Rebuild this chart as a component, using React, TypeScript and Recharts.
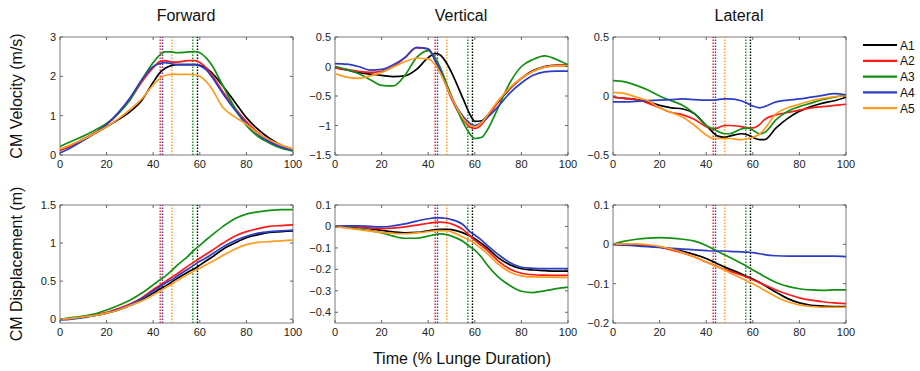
import { LineChart, Line, XAxis, YAxis, ReferenceLine, ReferenceArea } from "recharts";

// sample times (% lunge duration)
const TIME = [0, 5, 10, 15, 20, 25, 30, 35, 40, 43, 45, 48, 50, 55, 58, 60, 63, 65, 70, 75, 80, 85, 90, 95, 100];

// forward CM velocity (m/s)
const fwdVelA1 = [0.12, 0.25, 0.4, 0.55, 0.72, 0.9, 1.1, 1.38, 1.85, 2.1, 2.2, 2.28, 2.3, 2.3, 2.3, 2.28, 2.2, 2.1, 1.75, 1.35, 0.95, 0.65, 0.42, 0.25, 0.15];
const fwdVelA2 = [0.12, 0.25, 0.4, 0.57, 0.77, 1.05, 1.4, 1.85, 2.22, 2.38, 2.4, 2.36, 2.36, 2.4, 2.4, 2.35, 2.2, 2.05, 1.6, 1.2, 0.85, 0.57, 0.37, 0.24, 0.15];
const fwdVelA3 = [0.22, 0.35, 0.48, 0.63, 0.8, 1.05, 1.4, 1.9, 2.35, 2.55, 2.62, 2.62, 2.6, 2.62, 2.63, 2.6, 2.45, 2.3, 1.75, 1.2, 0.75, 0.47, 0.3, 0.17, 0.1];
const fwdVelA4 = [0.05, 0.2, 0.37, 0.55, 0.78, 1.08, 1.45, 1.9, 2.25, 2.33, 2.35, 2.32, 2.3, 2.3, 2.3, 2.27, 2.15, 2.0, 1.55, 1.15, 0.8, 0.52, 0.33, 0.2, 0.12];
const fwdVelA5 = [0.15, 0.27, 0.4, 0.55, 0.72, 0.92, 1.15, 1.42, 1.78, 1.95, 2.02, 2.05, 2.05, 2.05, 2.04, 2.0, 1.85, 1.7, 1.2, 0.97, 0.78, 0.55, 0.38, 0.25, 0.15];

// vertical CM velocity (m/s)
const vertVelA1 = [-0.02, -0.06, -0.1, -0.13, -0.15, -0.17, -0.16, -0.05, 0.15, 0.22, 0.2, 0.05, -0.1, -0.55, -0.82, -0.93, -0.92, -0.85, -0.6, -0.38, -0.2, -0.07, 0.0, 0.02, 0.02];
const vertVelA2 = [-0.02, -0.05, -0.08, -0.1, -0.08, 0.0, 0.15, 0.32, 0.3, 0.1, -0.05, -0.35, -0.55, -0.9, -1.03, -1.05, -0.98, -0.88, -0.6, -0.37, -0.2, -0.08, -0.01, 0.02, 0.02];
const vertVelA3 = [0.0, -0.05, -0.12, -0.22, -0.32, -0.33, -0.15, 0.15, 0.27, 0.15, 0.0, -0.3, -0.5, -0.95, -1.15, -1.22, -1.2, -1.1, -0.7, -0.28, 0.0, 0.12, 0.18, 0.12, 0.03];
const vertVelA4 = [0.05, 0.04, 0.0, -0.06, -0.05, 0.03, 0.15, 0.32, 0.3, 0.1, -0.05, -0.35, -0.52, -0.85, -0.97, -1.0, -0.95, -0.88, -0.68, -0.45, -0.28, -0.15, -0.09, -0.08, -0.08];
const vertVelA5 = [-0.12, -0.18, -0.2, -0.16, -0.1, -0.01, 0.08, 0.14, 0.13, 0.03, -0.1, -0.35, -0.52, -0.88, -1.0, -1.02, -0.95, -0.85, -0.58, -0.36, -0.2, -0.08, -0.01, 0.01, 0.01];

// lateral CM velocity (m/s)
const latVelA1 = [-0.01, -0.02, -0.03, -0.05, -0.08, -0.1, -0.11, -0.15, -0.25, -0.31, -0.34, -0.35, -0.34, -0.32, -0.33, -0.35, -0.37, -0.37, -0.27, -0.19, -0.13, -0.09, -0.06, -0.04, -0.01];
const latVelA2 = [-0.01, -0.02, -0.03, -0.06, -0.1, -0.14, -0.16, -0.2, -0.26, -0.28, -0.27, -0.25, -0.25, -0.26, -0.27, -0.27, -0.24, -0.2, -0.16, -0.14, -0.12, -0.1, -0.09, -0.08, -0.07];
const latVelA3 = [0.13, 0.12, 0.09, 0.05, 0.0, -0.04, -0.08, -0.15, -0.25, -0.28, -0.3, -0.32, -0.32, -0.28, -0.27, -0.29, -0.32, -0.31, -0.2, -0.13, -0.09, -0.06, -0.03, -0.01, 0.01];
const latVelA4 = [-0.05, -0.05, -0.045, -0.04, -0.035, -0.03, -0.025, -0.03, -0.035, -0.035, -0.03, -0.025, -0.025, -0.04, -0.065, -0.085, -0.1, -0.09, -0.05, -0.035, -0.025, -0.01, 0.005, 0.02, 0.01];
const latVelA5 = [0.03, 0.02, -0.01, -0.04, -0.1, -0.14, -0.18, -0.25, -0.33, -0.36, -0.36, -0.36, -0.36, -0.37, -0.36, -0.35, -0.32, -0.28, -0.15, -0.1, -0.07, -0.04, -0.02, -0.005, 0.0];

// forward CM displacement (m)
const fwdDispA1 = [0, 0.01, 0.03, 0.05, 0.08, 0.12, 0.18, 0.25, 0.34, 0.4, 0.43, 0.49, 0.53, 0.62, 0.67, 0.71, 0.77, 0.81, 0.92, 1.0, 1.07, 1.11, 1.14, 1.15, 1.16];
const fwdDispA2 = [0, 0.01, 0.03, 0.06, 0.09, 0.14, 0.2, 0.28, 0.39, 0.45, 0.49, 0.55, 0.59, 0.7, 0.76, 0.8, 0.86, 0.9, 1.0, 1.09, 1.15, 1.19, 1.22, 1.23, 1.24];
const fwdDispA3 = [0, 0.02, 0.04, 0.07, 0.12, 0.18, 0.25, 0.34, 0.45, 0.52, 0.56, 0.64, 0.7, 0.83, 0.92, 0.97, 1.05, 1.1, 1.22, 1.32, 1.38, 1.41, 1.43, 1.44, 1.44];
const fwdDispA4 = [-0.01, 0.0, 0.02, 0.05, 0.08, 0.13, 0.19, 0.27, 0.37, 0.43, 0.47, 0.52, 0.56, 0.66, 0.72, 0.76, 0.81, 0.85, 0.95, 1.03, 1.09, 1.13, 1.15, 1.16, 1.17];
const fwdDispA5 = [0, 0.01, 0.03, 0.05, 0.08, 0.12, 0.18, 0.24, 0.32, 0.37, 0.41, 0.46, 0.5, 0.59, 0.64, 0.67, 0.72, 0.75, 0.84, 0.92, 0.98, 1.01, 1.02, 1.03, 1.04];

// vertical CM displacement (m)
const vertDispA1 = [0, -0.002, -0.005, -0.01, -0.018, -0.025, -0.03, -0.028, -0.02, -0.016, -0.014, -0.013, -0.015, -0.03, -0.045, -0.057, -0.08, -0.097, -0.145, -0.178, -0.197, -0.203, -0.206, -0.208, -0.208];
const vertDispA2 = [0, 0.0, -0.003, -0.008, -0.01, -0.008, -0.002, 0.006, 0.015, 0.019, 0.02, 0.018, 0.012, -0.015, -0.045, -0.065, -0.09, -0.108, -0.16, -0.198, -0.218, -0.225, -0.227, -0.228, -0.228];
const vertDispA3 = [0, -0.005, -0.012, -0.02, -0.03, -0.045, -0.055, -0.055, -0.045, -0.038, -0.035, -0.038, -0.045, -0.07, -0.095, -0.11, -0.145, -0.175, -0.235, -0.275, -0.302, -0.308, -0.3, -0.29, -0.283];
const vertDispA4 = [0, 0.003, 0.003, 0.0, -0.002, 0.003, 0.012, 0.025, 0.036, 0.04, 0.04, 0.037, 0.032, 0.008, -0.025, -0.04, -0.065, -0.085, -0.13, -0.168, -0.19, -0.195, -0.197, -0.197, -0.197];
const vertDispA5 = [0, -0.008, -0.015, -0.022, -0.028, -0.032, -0.034, -0.03, -0.024, -0.02, -0.019, -0.02, -0.025, -0.05, -0.065, -0.08, -0.105, -0.123, -0.175, -0.212, -0.23, -0.235, -0.236, -0.237, -0.237];

// lateral CM displacement (m)
const latDispA1 = [0, -0.001, -0.002, -0.004, -0.007, -0.012, -0.018, -0.026, -0.036, -0.044, -0.05, -0.058, -0.063, -0.075, -0.083, -0.088, -0.097, -0.104, -0.122, -0.138, -0.149, -0.155, -0.157, -0.158, -0.158];
const latDispA2 = [0, 0.0, -0.001, -0.003, -0.007, -0.014, -0.022, -0.032, -0.045, -0.052, -0.057, -0.064, -0.068, -0.078, -0.085, -0.09, -0.098, -0.103, -0.116, -0.127, -0.136, -0.142, -0.146, -0.149, -0.151];
const latDispA3 = [0, 0.008, 0.013, 0.016, 0.017, 0.016, 0.013, 0.008, -0.003, -0.012, -0.018, -0.027, -0.033, -0.048, -0.058, -0.065, -0.075, -0.082, -0.097, -0.107, -0.113, -0.116, -0.117, -0.116, -0.116];
const latDispA4 = [0, -0.002, -0.004, -0.006, -0.008, -0.01, -0.012, -0.014, -0.016, -0.017, -0.017, -0.017, -0.018, -0.019, -0.02, -0.021, -0.024, -0.026, -0.029, -0.03, -0.03, -0.03, -0.03, -0.03, -0.031];
const latDispA5 = [0, 0.001, 0.001, -0.001, -0.005, -0.012, -0.021, -0.032, -0.045, -0.053, -0.058, -0.066, -0.072, -0.086, -0.095, -0.1, -0.11, -0.117, -0.133, -0.146, -0.154, -0.158, -0.16, -0.16, -0.16];

const SERIES = ["A1", "A2", "A3", "A4", "A5"];
const COLORS = ["#000000", "#ff1a1a", "#138f13", "#2c3cc4", "#ff9c1f"];
// end of stance phase per athlete (% lunge duration)
const EVENT_TIMES = [59, 43, 57, 44, 48];
const X_TICKS = [0, 20, 40, 60, 80, 100];

const COL_TITLES = ["Forward", "Vertical", "Lateral"];
const ROW_LABELS = ["CM Velocity (m/s)", "CM Displacement (m)"];

const FONT = "'Liberation Sans', Arial, Helvetica, sans-serif";

const CHART_W = 292;
const CHART_H = 145;
const PLOT_L = 40;
const PLOT_R = 273;
const PLOT_T = 5;
const PLOT_B = 123;
const COL_X = [60, 335, 613];
const ROW_Y = [37, 205];

const panels = [
  { values: [fwdVelA1, fwdVelA2, fwdVelA3, fwdVelA4, fwdVelA5], domain: [0, 3], ticks: [0, 1, 2, 3], row: 0, col: 0 },
  { values: [vertVelA1, vertVelA2, vertVelA3, vertVelA4, vertVelA5], domain: [-1.5, 0.5], ticks: [-1.5, -1, -0.5, 0, 0.5], row: 0, col: 1 },
  { values: [latVelA1, latVelA2, latVelA3, latVelA4, latVelA5], domain: [-0.5, 0.5], ticks: [-0.5, 0, 0.5], row: 0, col: 2 },
  { values: [fwdDispA1, fwdDispA2, fwdDispA3, fwdDispA4, fwdDispA5], domain: [-0.05, 1.5], ticks: [0, 0.5, 1, 1.5], row: 1, col: 0 },
  { values: [vertDispA1, vertDispA2, vertDispA3, vertDispA4, vertDispA5], domain: [-0.45, 0.1], ticks: [-0.4, -0.3, -0.2, -0.1, 0, 0.1], row: 1, col: 1 },
  { values: [latDispA1, latDispA2, latDispA3, latDispA4, latDispA5], domain: [-0.2, 0.1], ticks: [-0.2, -0.1, 0, 0.1], row: 1, col: 2 },
];

const fmt = (v: number) => String(v).replace("-", "\u2212");

function XTick(props: any) {
  const { x, payload } = props;
  return (
    <g>
      <line x1={x} x2={x} y1={PLOT_B} y2={PLOT_B - 3} stroke="#666" />
      <line x1={x} x2={x} y1={PLOT_T} y2={PLOT_T + 3} stroke="#666" />
      <text x={x} y={PLOT_B + 13} textAnchor="middle" fontSize={11} fill="#222" fontFamily={FONT}>
        {fmt(payload.value)}
      </text>
    </g>
  );
}

function YTick(props: any) {
  const { y, payload } = props;
  return (
    <g>
      <line x1={PLOT_L} x2={PLOT_L + 3} y1={y} y2={y} stroke="#666" />
      <line x1={PLOT_R - 3} x2={PLOT_R} y1={y} y2={y} stroke="#666" />
      <text x={PLOT_L - 4} y={y + 4} textAnchor="end" fontSize={11} fill="#222" fontFamily={FONT}>
        {fmt(payload.value)}
      </text>
    </g>
  );
}

function Panel({ values, domain, ticks }: { values: number[][]; domain: number[]; ticks: number[] }) {
  const data = TIME.map((t, i) => {
    const row: Record<string, number> = { t };
    SERIES.forEach((s, k) => (row[s] = values[k][i]));
    return row;
  });

  return (
    <LineChart width={CHART_W} height={CHART_H} data={data} margin={{ top: PLOT_T, right: CHART_W - PLOT_R, bottom: 0, left: 0 }}>
      <XAxis dataKey="t" type="number" domain={[0, 100]} ticks={X_TICKS} interval={0} height={CHART_H - PLOT_B}
        axisLine={false} tickLine={false} tick={XTick} allowDataOverflow />
      <YAxis type="number" domain={domain} ticks={ticks} interval={0} width={PLOT_L}
        axisLine={false} tickLine={false} tick={YTick} allowDataOverflow />
      {EVENT_TIMES.map((t, k) => (
        <ReferenceLine key={"ev" + k} x={t} stroke={COLORS[k]} strokeWidth={1.4} strokeDasharray="1.5 1.5" />
      ))}
      {SERIES.map((s, k) => (
        <Line key={s} dataKey={s} type="monotone" stroke={COLORS[k]} strokeWidth={1.7} dot={false} isAnimationActive={false} />
      ))}
      <ReferenceArea x1={0} x2={100} y1={domain[0]} y2={domain[1]} fill="none" fillOpacity={0} stroke="#7a7a7a" strokeWidth={1} />
    </LineChart>
  );
}

export default function App() {
  return (
    <div style={{ position: "absolute", left: 0, top: 0, width: 920, height: 371, background: "#fff", fontFamily: FONT }}>
      <svg width={920} height={371} style={{ position: "absolute", left: 0, top: 0 }}>
        {COL_TITLES.map((title, i) => (
          <text key={title} x={COL_X[i] + 126} y={21} textAnchor="middle" fontSize={16} fill="#111" fontFamily={FONT}>
            {title}
          </text>
        ))}
        {ROW_LABELS.map((label, i) => (
          <text key={label} transform={`translate(22, ${ROW_Y[i] + 59}) rotate(-90)`} textAnchor="middle" fontSize={16} fill="#111" fontFamily={FONT}>
            {label}
          </text>
        ))}
        <text x={462} y={364} textAnchor="middle" fontSize={16} fill="#111" fontFamily={FONT}>
          Time (% Lunge Duration)
        </text>
        {SERIES.map((s, k) => (
          <g key={s}>
            <line x1={863} x2={897} y1={45 + k * 15.8} y2={45 + k * 15.8} stroke={COLORS[k]} strokeWidth={2.2} />
            <text x={900} y={45 + k * 15.8 + 4.5} fontSize={12} fill="#111" fontFamily={FONT}>
              {s}
            </text>
          </g>
        ))}
      </svg>
      {panels.map((p, i) => (
        <div key={i} style={{ position: "absolute", left: COL_X[p.col] - PLOT_L, top: ROW_Y[p.row] - PLOT_T }}>
          <Panel values={p.values} domain={p.domain} ticks={p.ticks} />
        </div>
      ))}
    </div>
  );
}
